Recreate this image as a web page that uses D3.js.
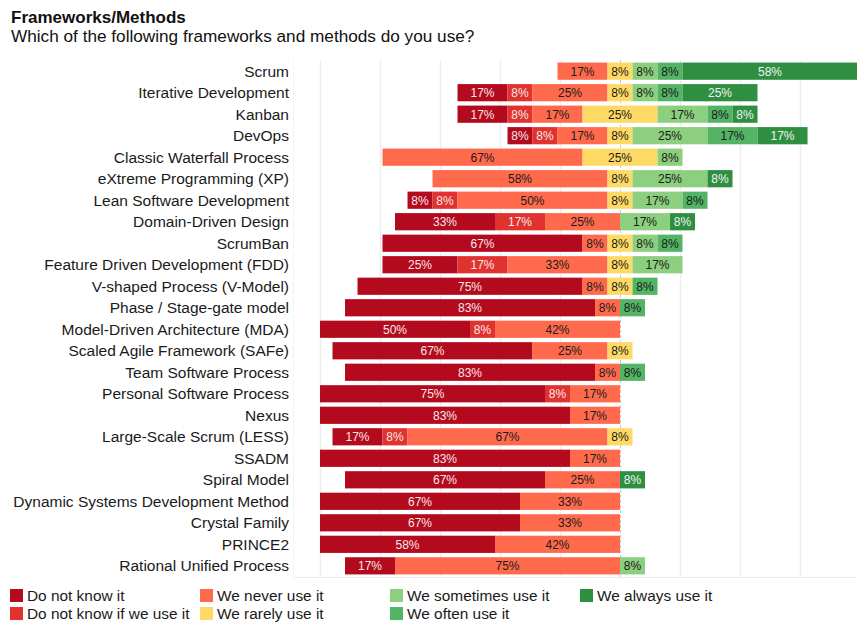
<!DOCTYPE html>
<html>
<head>
<meta charset="utf-8">
<script src="https://cdn.jsdelivr.net/npm/d3@7"></script>
<style>
  body { margin: 0; background: #fff; }
  svg { font-family: "Liberation Sans", Arial, sans-serif; }
</style>
</head>
<body>
<svg id="chart" width="857" height="622"></svg>
<script>
const categories = [
  "Scrum", "Iterative Development", "Kanban", "DevOps", "Classic Waterfall Process",
  "eXtreme Programming (XP)", "Lean Software Development", "Domain-Driven Design",
  "ScrumBan", "Feature Driven Development (FDD)", "V-shaped Process (V-Model)",
  "Phase / Stage-gate model", "Model-Driven Architecture (MDA)",
  "Scaled Agile Framework (SAFe)", "Team Software Process", "Personal Software Process",
  "Nexus", "Large-Scale Scrum (LESS)", "SSADM", "Spiral Model",
  "Dynamic Systems Development Method", "Crystal Family", "PRINCE2", "Rational Unified Process"
];
const seriesNames = [
  "Do not know it", "Do not know if we use it", "We never use it", "We rarely use it",
  "We sometimes use it", "We often use it", "We always use it"
];
// percentages per category, in series order
const doNotKnow     = [0, 16.67, 16.67, 8.33, 0, 0, 8.33, 33.33, 66.67, 25, 75, 83.33, 50, 66.67, 83.33, 75, 83.33, 16.67, 83.33, 66.67, 66.67, 66.67, 58.33, 16.67];
const doNotKnowIf   = [0, 8.33, 8.33, 8.33, 0, 0, 8.33, 16.67, 0, 16.67, 0, 0, 8.33, 0, 0, 8.33, 0, 8.33, 0, 0, 0, 0, 0, 0];
const neverUse      = [16.67, 25, 16.67, 16.67, 66.67, 58.33, 50, 25, 8.33, 33.33, 8.33, 8.33, 41.67, 25, 8.33, 16.67, 16.67, 66.67, 16.67, 25, 33.33, 33.33, 41.67, 75];
const rarelyUse     = [8.33, 8.33, 25, 8.33, 25, 8.33, 8.33, 0, 8.33, 8.33, 8.33, 0, 0, 8.33, 0, 0, 0, 8.33, 0, 0, 0, 0, 0, 0];
const sometimesUse  = [8.33, 8.33, 16.67, 25, 8.33, 25, 16.67, 16.67, 8.33, 16.67, 0, 0, 0, 0, 0, 0, 0, 0, 0, 0, 0, 0, 0, 8.33];
const oftenUse      = [8.33, 8.33, 8.33, 16.67, 0, 0, 8.33, 0, 8.33, 0, 8.33, 8.33, 0, 0, 8.33, 0, 0, 0, 0, 0, 0, 0, 0, 0];
const alwaysUse     = [58.33, 25, 8.33, 16.67, 0, 8.33, 0, 8.33, 0, 0, 0, 0, 0, 0, 0, 0, 0, 0, 0, 8.33, 0, 0, 0, 0];
const tickValues = [-100, -80, -60, -40, -20, 0, 20, 40, 60];

const seriesValues = [doNotKnow, doNotKnowIf, neverUse, rarelyUse, sometimesUse, oftenUse, alwaysUse];
const colors = ["#b40a1e", "#e0322f", "#ff6a4d", "#ffd966", "#8ccf7e", "#53b466", "#2e8f41"];
const textColors = ["#f7e8e8", "#f7e8e8", "#1a1a1a", "#1a1a1a", "#1a1a1a", "#1a1a1a", "#f2f2f2"];

// build segments: negatives = first 3 + half of rarely; positives = half rarely + rest
const segs = [];
let minX = 0, maxX = 0;
categories.forEach((cat, i) => {
  const v = seriesValues.map(s => s[i]);
  const neg = v[0] + v[1] + v[2] + v[3] / 2;
  let xx = -neg;
  v.forEach((val, k) => {
    if (val > 0) segs.push({cat, k, x0: xx, x1: xx + val, val});
    xx += val;
  });
  minX = Math.min(minX, -neg);
  maxX = Math.max(maxX, xx);
});

const svg = d3.select("#chart");
const pLeft = 320, pRight = 857.5, pTop = 60, pBottom = 577;
const x = d3.scaleLinear().domain([minX, maxX]).range([pLeft, pRight]);
const y = d3.scaleBand().domain(categories).range([pTop, pBottom]).paddingInner(0.2).paddingOuter(0.12);

// frame lines
svg.append("line").attr("x1", 293).attr("x2", 857).attr("y1", pBottom + 0.5).attr("y2", pBottom + 0.5)
  .attr("stroke", "#ececec").attr("stroke-width", 1);
svg.append("line").attr("x1", 293.5).attr("x2", 293.5).attr("y1", pTop).attr("y2", pBottom)
  .attr("stroke", "#f4f4f4").attr("stroke-width", 1);

// grid
svg.append("g").selectAll("line").data(tickValues).join("line")
  .attr("x1", d => Math.round(x(d)) + 0.5).attr("x2", d => Math.round(x(d)) + 0.5)
  .attr("y1", pTop).attr("y2", pBottom)
  .attr("stroke", d => d === 0 ? "#c8c8c8" : "#eeeeee")
  .attr("stroke-width", d => d === 0 ? 1 : 1.5)
  .attr("stroke-dasharray", d => d === 0 ? "3,2" : null);

// bars
const g = svg.append("g");
g.selectAll("rect").data(segs).join("rect")
  .attr("x", d => x(d.x0)).attr("width", d => x(d.x1) - x(d.x0))
  .attr("y", d => y(d.cat)).attr("height", y.bandwidth())
  .attr("fill", d => colors[d.k]);

g.selectAll("text").data(segs).join("text")
  .attr("x", d => (x(d.x0) + x(d.x1)) / 2)
  .attr("y", d => y(d.cat) + y.bandwidth() / 2)
  .attr("dy", "0.36em")
  .attr("text-anchor", "middle")
  .attr("font-size", 12)
  .attr("fill", d => textColors[d.k])
  .text(d => Math.round(d.val) + "%");

// category labels
svg.append("g").selectAll("text").data(categories).join("text")
  .attr("x", 289).attr("y", d => y(d) + y.bandwidth() / 2).attr("dy", "0.36em")
  .attr("text-anchor", "end").attr("font-size", 15.5).attr("fill", "#1a1a1a")
  .text(d => d);

// title
svg.append("text").attr("x", 11).attr("y", 23).attr("font-size", 17).attr("font-weight", "bold")
  .attr("fill", "#111").text("Frameworks/Methods");
svg.append("text").attr("x", 11).attr("y", 42).attr("font-size", 17.2)
  .attr("fill", "#111").text("Which of the following frameworks and methods do you use?");

// legend
const lg = svg.append("g");
seriesNames.forEach((name, k) => {
  const col = Math.floor(k / 2), row = k % 2;
  const gx = 10 + col * 190, gy = 589 + row * 18;
  lg.append("rect").attr("x", gx).attr("y", gy).attr("width", 13).attr("height", 13).attr("fill", colors[k]);
  lg.append("text").attr("x", gx + 17).attr("y", gy + 11.5).attr("font-size", 15.4).attr("fill", "#1a1a1a").text(name);
});
</script>
</body>
</html>
